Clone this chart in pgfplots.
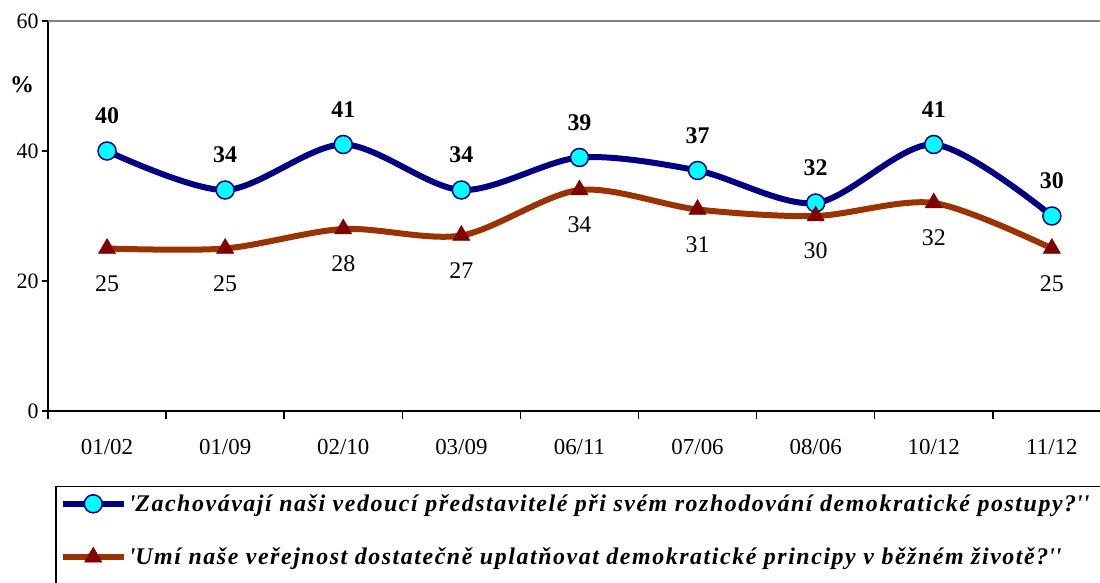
\documentclass[border=0pt]{standalone}
\usepackage{fontspec}
\setmainfont{Liberation Serif}
\usepackage{pgfplots}
\pgfplotsset{compat=1.18}
\definecolor{navy}{HTML}{000080}
\definecolor{cyanm}{HTML}{00FFFF}
\definecolor{rust}{HTML}{993300}
\definecolor{maroonm}{HTML}{800000}
\begin{document}
\begin{tikzpicture}
\useasboundingbox (0,0) rectangle (1100bp,583bp);
\clip (0,0) rectangle (1100bp,583bp);
\begin{axis}[
  scale only axis, width=1063bp, height=390bp,
  at={(48bp,172bp)}, anchor=south west,
  xmin=-0.5, xmax=8.5, ymin=0, ymax=60,
  axis x line*=bottom, axis y line*=left,
  axis line style={line width=2bp, black},
  xtick={0,...,8},
  xticklabels={01/02,01/09,02/10,03/09,06/11,07/06,08/06,10/12,11/12},
  minor xtick={-0.5,0.5,...,8.5},
  ytick={0,20,40,60},
  tick align=outside,
  major tick length=6bp,
  minor tick length=8bp,
  major x tick style={draw=none},
  minor x tick style={line width=1.5bp, black},
  ytick style={line width=1.5bp, black},
  /pgf/number format/assume math mode=true,
  yticklabel style={font=\fontsize{22}{26}\selectfont},
  xticklabel style={font=\fontsize{23}{27}\selectfont, yshift=-19bp},
  clip=false,
  legend style={at={(0.0066,-0.192)}, anchor=north west, draw=black, line width=1.5bp,
    font=\bfseries\itshape\fontsize{24}{28}\selectfont\addfontfeature{LetterSpace=6.5},
    row sep=31bp, inner xsep=4bp, inner ysep=6bp},
  legend cell align=left,
  legend image code/.code={\draw[mark repeat=2,mark phase=2,#1] plot coordinates {(0bp,0bp) (30.5bp,0bp) (61bp,0bp)};},
]
\draw[gray, line width=2bp] (rel axis cs:0,1) -- (rel axis cs:1,1);
\addplot[navy, line width=6bp, smooth, mark=*, mark size=9bp,
  mark options={fill=cyanm, draw=navy, line width=1.5bp},
  nodes near coords,
  every node near coord/.append style={font=\bfseries\fontsize{24}{28}\selectfont, anchor=center, yshift=35bp, text=black}]
  coordinates {(0,40) (1,34) (2,41) (3,34) (4,39) (5,37) (6,32) (7,41) (8,30)};
\addlegendentry{\makebox[990bp][l]{\textquotesingle Zachovávají naši vedoucí představitelé při svém rozhodování demokratické postupy?\textquotesingle\textquotesingle}}
\addplot[rust, line width=6bp, smooth, mark=triangle*, mark size=10bp,
  mark options={fill=maroonm, draw=maroonm, line width=0.5bp},
  nodes near coords,
  every node near coord/.append style={font=\fontsize{24}{28}\selectfont, anchor=center, yshift=-35bp, text=black}]
  coordinates {(0,25) (1,25) (2,28) (3,27) (4,34) (5,31) (6,30) (7,32) (8,25)};
\addlegendentry{\makebox[990bp][l]{\textquotesingle Umí naše veřejnost dostatečně uplatňovat demokratické principy v běžném životě?\textquotesingle\textquotesingle}}
\addlegendimage{empty legend}
\addlegendentry{\strut}
\end{axis}
\node[font=\bfseries\fontsize{24}{28}\selectfont] at (22bp,498bp) {\%};
\end{tikzpicture}
\end{document}
